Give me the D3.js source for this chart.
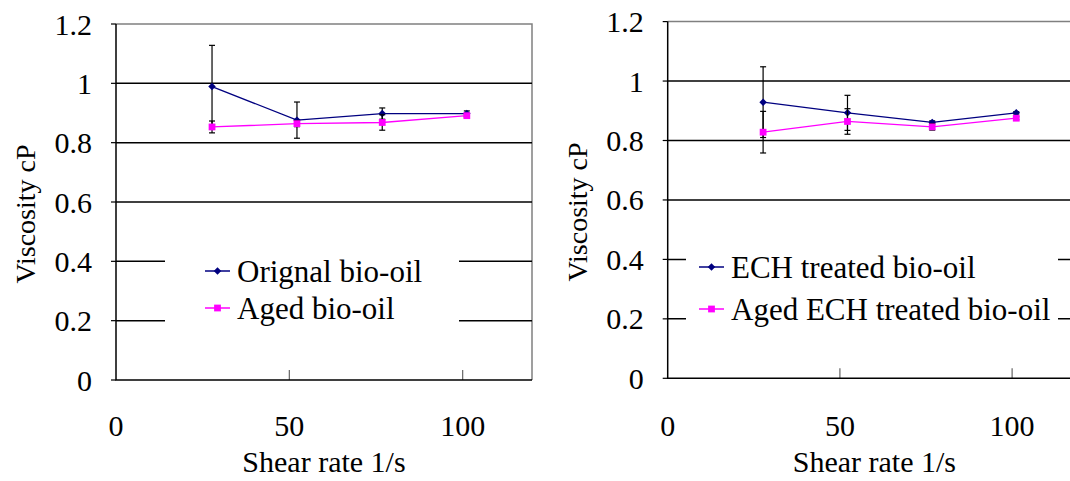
<!DOCTYPE html>
<html>
<head>
<meta charset="utf-8">
<script src="https://cdn.jsdelivr.net/npm/d3@7"></script>
<style>
  body { margin: 0; background: #fff; }
  svg, svg text { font-family: "Liberation Serif", "DejaVu Serif", "Times New Roman", serif; }
  svg { display: block; }
</style>
</head>
<body>
<svg id="chart" width="1070" height="481"></svg>
<script>
"use strict";

/* ── Data ───────────────────────────────────────────────────────── */

const shearRate = [27.7, 52.2, 76.8, 101.2];

const originalOil    = [0.989, 0.876, 0.898, 0.898];
const originalOilErr = [0.139, 0.061, 0.019, 0.009];
const agedOil        = [0.853, 0.864, 0.868, 0.891];
const agedOilErr     = [0.020, 0.010, 0.026, 0.005];

const echOil         = [0.929, 0.893, 0.861, 0.893];
const echOilErr      = [0.119, 0.059, 0.005, 0.004];
const agedEchOil     = [0.828, 0.864, 0.846, 0.875];
const agedEchOilErr  = [0.070, 0.043, 0.011, 0.005];

const xTicks = [0, 50, 100];
const yTicks = [0, 0.2, 0.4, 0.6, 0.8, 1.0, 1.2];

const NAVY = "#000080", MAGENTA = "#ff00ff";
const FONT = "Liberation Serif, DejaVu Serif, Times New Roman, serif";

/* ── Panel layout ───────────────────────────────────────────────── */

const PANELS = [
  {
    left: 116, right: 532, top: 24, bottom: 380, legendPad: 40,
    legend: { x: 165, y: 236, w: 294, h: 108, rowY: [271, 308] },
    series: [
      { name: "Orignal bio-oil", values: originalOil, err: originalOilErr, color: NAVY,    marker: "diamond" },
      { name: "Aged bio-oil",    values: agedOil,     err: agedOilErr,     color: MAGENTA, marker: "square" },
    ],
  },
  {
    left: 667.7, right: 1081, top: 21.6, bottom: 378.3, legendPad: 13,
    legend: { x: 686, y: 232, w: 372, h: 108, rowY: [267, 309] },
    series: [
      { name: "ECH treated bio-oil",      values: echOil,     err: echOilErr,     color: NAVY,    marker: "diamond" },
      { name: "Aged ECH treated bio-oil", values: agedEchOil, err: agedEchOilErr, color: MAGENTA, marker: "square" },
    ],
  },
];

const svg = d3.select("#chart").attr("font-family", FONT);
const fmtY = function (d) { return String(+d.toFixed(1)); };

function drawMarker(g, kind, color) {
  if (kind === "diamond") {
    g.append("path")
      .attr("d", d3.symbol(d3.symbolSquare, 28)())
      .attr("transform", "rotate(45)")
      .attr("fill", color);
  } else {
    g.append("path")
      .attr("d", d3.symbol(d3.symbolSquare, 46)())
      .attr("fill", color);
  }
}

PANELS.forEach(function (p) {
  const x = d3.scaleLinear().domain([0, 120]).range([p.left, p.right]);
  const y = d3.scaleLinear().domain([0, 1.2]).range([p.bottom, p.top]);
  const g = svg.append("g");

  /* plot area border (grey top/right) */
  g.append("path")
    .attr("d", "M" + x(0) + "," + y(1.2) + "H" + x(120) + "V" + y(0))
    .attr("fill", "none").attr("stroke", "#808080").attr("stroke-width", 1.5);

  /* gridlines */
  g.selectAll(".grid").data(yTicks.filter(function (t) { return t > 0 && t < 1.2; }))
    .enter().append("line")
    .attr("x1", x(0)).attr("x2", x(120))
    .attr("y1", function (d) { return y(d); }).attr("y2", function (d) { return y(d); })
    .attr("stroke", "#000").attr("stroke-width", 1.5);

  /* x ticks (inside, upward) */
  g.selectAll(".xt").data(xTicks.filter(function (t) { return t > 0; }))
    .enter().append("line")
    .attr("x1", function (d) { return x(d); }).attr("x2", function (d) { return x(d); })
    .attr("y1", y(0)).attr("y2", y(0) - 10)
    .attr("stroke", "#666").attr("stroke-width", 1.2);

  /* y ticks (outside) */
  g.selectAll(".yt").data(yTicks)
    .enter().append("line")
    .attr("x1", x(0) - 5).attr("x2", x(0))
    .attr("y1", function (d) { return y(d); }).attr("y2", function (d) { return y(d); })
    .attr("stroke", "#000").attr("stroke-width", 1.2);

  /* axis lines */
  g.append("path")
    .attr("d", "M" + x(0) + "," + y(1.2) + "V" + y(0) + "H" + x(120))
    .attr("fill", "none").attr("stroke", "#000").attr("stroke-width", 1.5);

  /* tick labels */
  g.selectAll(".yl").data(yTicks)
    .enter().append("text")
    .attr("x", x(0) - 24).attr("y", function (d) { return y(d); })
    .attr("dy", "0.35em").attr("text-anchor", "end")
    .attr("font-size", 30).text(fmtY);

  g.selectAll(".xl").data(xTicks)
    .enter().append("text")
    .attr("x", function (d) { return x(d); }).attr("y", 436)
    .attr("text-anchor", "middle").attr("font-size", 30)
    .text(function (d) { return d; });

  /* axis titles */
  g.append("text")
    .attr("x", (x(0) + x(120)) / 2).attr("y", 472)
    .attr("text-anchor", "middle").attr("font-size", 30)
    .text("Shear rate 1/s");

  g.append("text")
    .attr("transform", "translate(" + (x(0) - 91) + "," + ((y(0) + y(1.2)) / 2 + 12) + ") rotate(-90)")
    .attr("dy", "0.35em").attr("text-anchor", "middle").attr("font-size", 28)
    .text("Viscosity cP");

  /* legend background hides gridlines behind it */
  g.append("rect")
    .attr("x", p.legend.x).attr("y", p.legend.y)
    .attr("width", p.legend.w).attr("height", p.legend.h)
    .attr("fill", "#fff");

  /* series */
  const line = d3.line()
    .x(function (d, i) { return x(shearRate[i]); })
    .y(function (d) { return y(d); });

  p.series.forEach(function (s) {
    const sg = g.append("g");

    sg.append("path").attr("d", line(s.values))
      .attr("fill", "none").attr("stroke", s.color).attr("stroke-width", 1.3);

    s.values.forEach(function (v, i) {
      const cx = x(shearRate[i]);
      const y1 = y(v - s.err[i]), y2 = y(v + s.err[i]);
      sg.append("line").attr("x1", cx).attr("x2", cx).attr("y1", y1).attr("y2", y2)
        .attr("stroke", "#000").attr("stroke-width", 1.2);
      [y1, y2].forEach(function (yy) {
        sg.append("line").attr("x1", cx - 3).attr("x2", cx + 3).attr("y1", yy).attr("y2", yy)
          .attr("stroke", "#000").attr("stroke-width", 1.2);
      });
    });

    s.values.forEach(function (v, i) {
      const mg = sg.append("g").attr("transform", "translate(" + x(shearRate[i]) + "," + y(v) + ")");
      drawMarker(mg, s.marker, s.color);
    });
  });

  /* legend entries */
  p.series.forEach(function (s, i) {
    const ly = p.legend.rowY[i];
    const lx = p.legend.x + p.legendPad;
    g.append("line").attr("x1", lx).attr("x2", lx + 25).attr("y1", ly).attr("y2", ly)
      .attr("stroke", s.color).attr("stroke-width", 1.5);
    const mg = g.append("g").attr("transform", "translate(" + (lx + 12.5) + "," + ly + ")");
    drawMarker(mg, s.marker, s.color);
    g.append("text").attr("x", lx + 32).attr("y", ly).attr("dy", "0.35em")
      .attr("font-size", 31).text(s.name);
  });
});
</script>
</body>
</html>
